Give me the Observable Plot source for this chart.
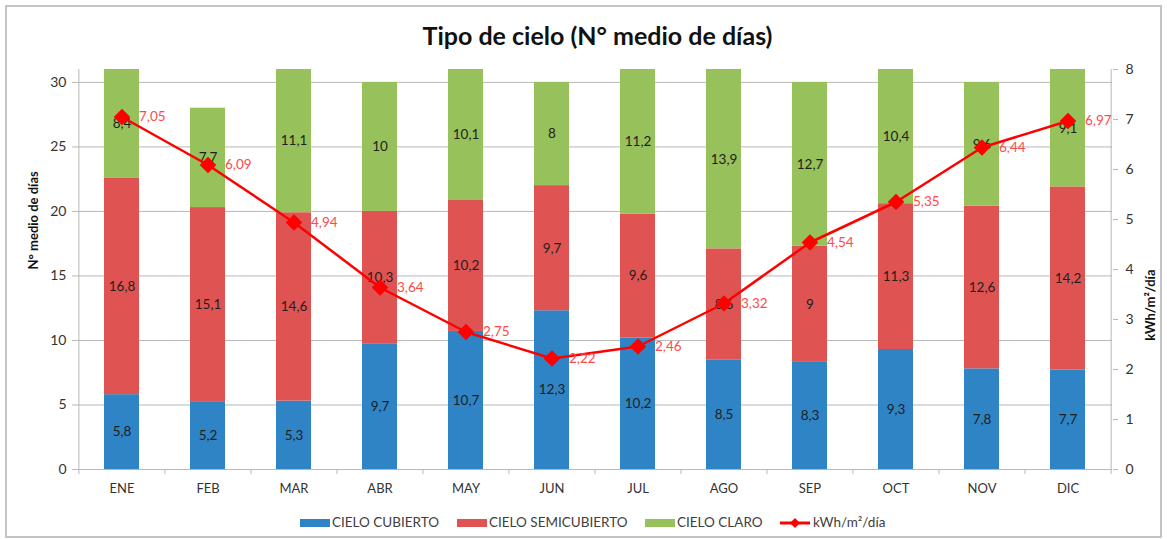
<!DOCTYPE html>
<html>
<head>
<meta charset="utf-8">
<script src="https://cdn.jsdelivr.net/npm/d3@7"></script>
<script src="https://cdn.jsdelivr.net/npm/@observablehq/plot@0.6"></script>
<style>
  html, body { margin: 0; padding: 0; background: #fff; }
  body { width: 1167px; height: 539px; overflow: hidden; font-family: Lato, "Open Sans", sans-serif; }
  #wrap { position: relative; width: 1167px; height: 539px; }
  #frame { position: absolute; left: 5px; top: 5px; width: 1153px; height: 529px; border: 2px solid #c4c4c4; box-sizing: content-box; pointer-events: none; }
  #title { position: absolute; left: 14px; top: 0; width: 1167px; height: 55px; text-align: center; font-weight: bold; font-size: 25px; line-height: 70px; color: #111; }
  #chart { position: absolute; left: 0; top: 55px; }
  #legend { position: absolute; left: 0; top: 505px; width: 1167px; height: 34px; font-size: 13.5px; color: #404040; }
  .li { position: absolute; top: 9px; height: 16px; line-height: 16px; white-space: nowrap; }
  .sw { display: inline-block; width: 30px; height: 8px; vertical-align: middle; margin-right: 2px; position: relative; top: -1px; }
</style>
</head>
<body>
<div id="wrap">
  <div id="title">Tipo de cielo (N° medio de días)</div>
  <div id="chart"></div>
  <div id="legend"></div>
  <div id="frame"></div>
</div>
<script>
const months = ["ENE","FEB","MAR","ABR","MAY","JUN","JUL","AGO","SEP","OCT","NOV","DIC"];
const cubierto = [5.8, 5.2, 5.3, 9.7, 10.7, 12.3, 10.2, 8.5, 8.3, 9.3, 7.8, 7.7];
const semicubierto = [16.8, 15.1, 14.6, 10.3, 10.2, 9.7, 9.6, 8.6, 9, 11.3, 12.6, 14.2];
const claro = [8.4, 7.7, 11.1, 10, 10.1, 8, 11.2, 13.9, 12.7, 10.4, 9.6, 9.1];
const kwh = [7.05, 6.09, 4.94, 3.64, 2.75, 2.22, 2.46, 3.32, 4.54, 5.35, 6.44, 6.97];
const seriesNames = ["CIELO CUBIERTO", "CIELO SEMICUBIERTO", "CIELO CLARO"];
const seriesColors = ["#2f84c6", "#df5452", "#97c15a"];
const lineName = "kWh/m²/día";
const lineColor = "#ff0000";
const leftTicks = [0, 5, 10, 15, 20, 25, 30];
const rightTicks = [0, 1, 2, 3, 4, 5, 6, 7, 8];
const leftMax = 31, rightMax = 8;
const K = leftMax / rightMax;

const fmt = v => String(v).replace(".", ",");

const bars = months.flatMap((m, i) => [
  {month: m, serie: seriesNames[0], value: cubierto[i]},
  {month: m, serie: seriesNames[1], value: semicubierto[i]},
  {month: m, serie: seriesNames[2], value: claro[i]}
]);
const lineData = months.map((m, i) => ({month: m, kwh: kwh[i]}));

const halfStep = (1167 - 77 - 55) / months.length / 2;

const chart = Plot.plot({
  width: 1167,
  height: 450,
  marginLeft: 77,
  marginRight: 55,
  marginTop: 14,
  marginBottom: 36,
  style: {fontFamily: "Lato, 'Open Sans', sans-serif", fontSize: "13px", color: "#404040", background: "transparent"},
  x: {domain: months, paddingInner: 0.59, paddingOuter: 0.295, axis: null},
  y: {domain: [0, leftMax], axis: null},
  color: {domain: seriesNames, range: seriesColors},
  marks: [
    Plot.gridY(leftTicks, {stroke: "#b8b8b8", strokeOpacity: 1}),
    Plot.barY(bars, {x: "month", y: "value", fill: "serie"}),
    Plot.text(bars, Plot.stackY({x: "month", y: "value", text: d => fmt(d.value), fill: "#1e1e1e", fontSize: 13.5})),
    // axis lines
    Plot.ruleX([months[0]], {x: d => d, y1: 0, y2: leftMax, dx: -halfStep, stroke: "#b8b8b8"}),
    Plot.ruleX([months[months.length - 1]], {x: d => d, y1: 0, y2: leftMax, dx: halfStep, stroke: "#b8b8b8"}),
    Plot.ruleY([0], {stroke: "#b8b8b8"}),
    // category boundary ticks
    Plot.ruleX(months, {x: d => d, y1: 0, y2: -0.4, dx: -halfStep, stroke: "#b8b8b8"}),
    Plot.ruleX([months[months.length - 1]], {x: d => d, y1: 0, y2: -0.4, dx: halfStep, stroke: "#b8b8b8"}),
    Plot.axisX({tickSize: 0, tickPadding: 14, fontSize: 13, fill: "#333", label: null}),
    Plot.axisY(leftTicks, {anchor: "left", tickSize: 5, tickPadding: 6, fontSize: 14, stroke: "#b8b8b8", fill: "#333", label: null}),
    Plot.axisY(rightTicks.map(v => v * K), {anchor: "right", tickSize: 5, tickPadding: 8, fontSize: 14, stroke: "#b8b8b8", fill: "#333", tickFormat: d => String(Math.round(d / K)), label: null}),
    Plot.text(["N° medio de días"], {frameAnchor: "left", dx: -44, rotate: -90, fontWeight: "bold", fontSize: 13, fill: "#111"}),
    Plot.text([lineName], {frameAnchor: "right", dx: 38, rotate: -90, fontWeight: "bold", fontSize: 13, fill: "#111"}),
    Plot.line(lineData, {x: "month", y: d => d.kwh * K, stroke: lineColor, strokeWidth: 2.5}),
    Plot.dot(lineData, {x: "month", y: d => d.kwh * K, symbol: "diamond2", r: 6.5, fill: lineColor, stroke: lineColor}),
    Plot.text(lineData, {x: "month", y: d => d.kwh * K, text: d => fmt(d.kwh.toFixed(2)), dx: 17, textAnchor: "start", fill: "#ff4a4a", fontSize: 13.5})
  ]
});
document.getElementById("chart").appendChild(chart);

// legend
const legend = document.getElementById("legend");
const legendPos = [300, 457, 645];
seriesNames.forEach((name, i) => {
  const d = document.createElement("div");
  d.className = "li";
  d.style.left = legendPos[i] + "px";
  d.innerHTML = `<span class="sw" style="background:${seriesColors[i]}"></span>${name}`;
  legend.appendChild(d);
});
const ld = document.createElement("div");
ld.className = "li";
ld.style.left = "780px";
ld.innerHTML = `<svg width="31" height="12" style="vertical-align:middle;position:relative;top:-1px;margin-right:2px"><line x1="0" y1="6" x2="30" y2="6" stroke="${lineColor}" stroke-width="3"/><path d="M15,1 L20,6 L15,11 L10,6 Z" fill="${lineColor}"/></svg>${lineName}`;
legend.appendChild(ld);
</script>
</body>
</html>
